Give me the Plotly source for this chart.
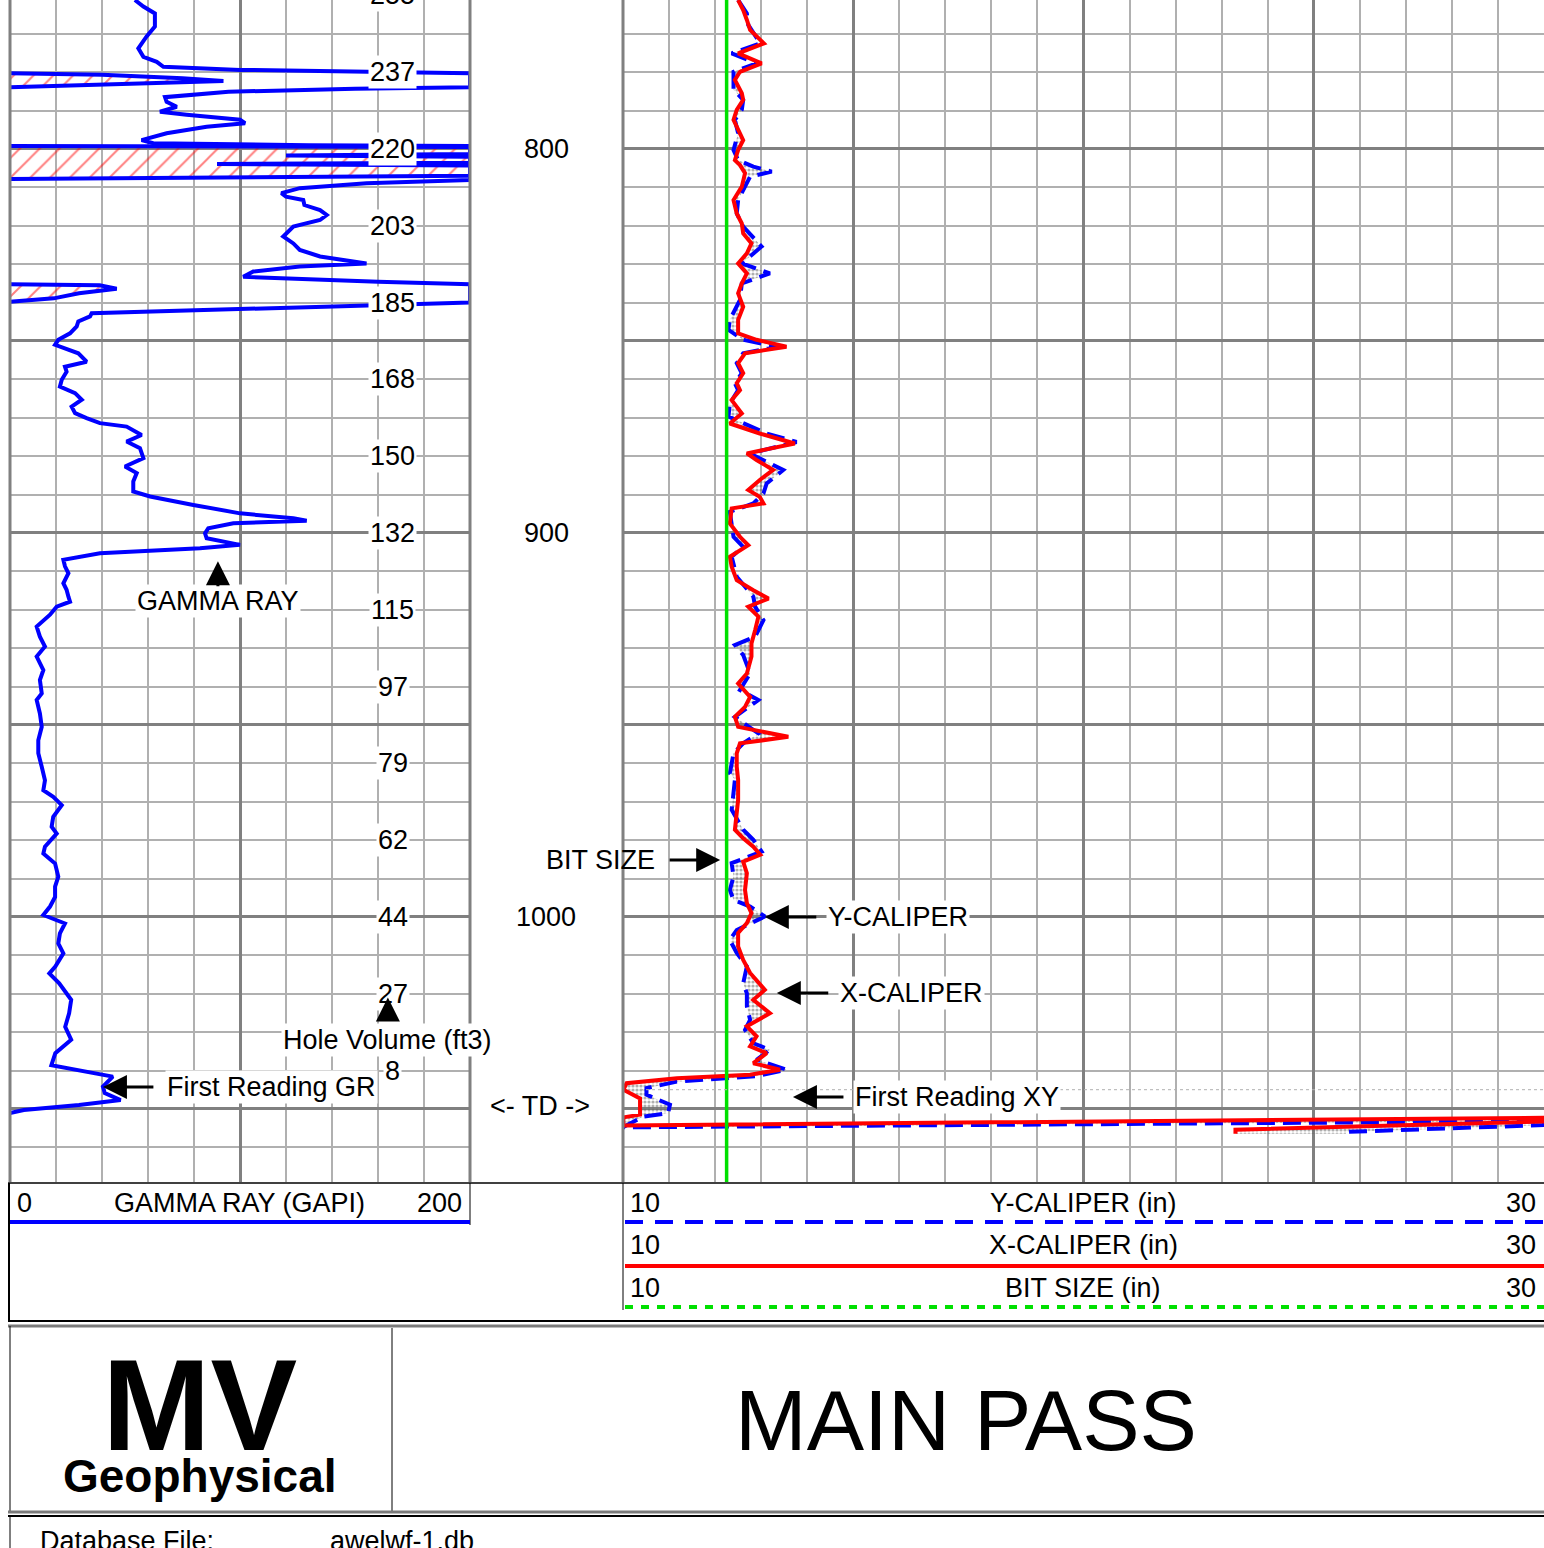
import plotly.graph_objects as go

W, H = 1544, 1548
FONT = "Liberation Sans, Arial, sans-serif"

# depth window shown on the sheet (ft)
depth_top = 761.2
depth_bottom = 1069.3

# ---------------- gamma ray (GAPI), main trace ----------------
gr_depth = [
    761.2, 762.9, 764.7, 768.1, 770.7, 773.8, 776.0, 777.3, 778.6, 779.4, 780.0, 780.3,
    783.9, 784.3, 785.1, 785.9, 786.5, 787.7, 789.0, 790.3, 791.1, 792.4, 793.3, 794.2,
    795.9, 797.7, 798.5, 799.0, 799.2, 808.1, 808.9, 810.2, 811.5, 812.4, 813.3, 814.6,
    815.9, 817.2, 818.5, 820.2, 822.8, 824.6, 826.3, 828.0, 829.8, 830.6, 831.9, 833.3,
    834.6, 835.2, 840.0, 841.0, 842.3, 842.8, 843.6, 844.9, 846.2, 848.0, 849.7, 851.0,
    853.2, 855.4, 856.7, 858.0, 860.1, 861.9, 863.6, 865.3, 867.1, 868.8, 870.1, 871.4,
    872.3, 874.5, 876.2, 877.9, 880.5, 882.7, 884.4, 886.6, 889.2, 890.5, 892.7, 894.9,
    896.2, 896.8, 897.5, 898.8, 900.1, 901.4, 903.1, 904.0, 905.3, 907.0, 908.7, 910.5,
    913.1, 914.8, 916.6, 917.9, 919.2, 921.3, 924.4, 927.0, 929.6, 932.2, 935.7, 938.3,
    941.8, 943.5, 947.0, 950.5, 954.0, 957.4, 960.9, 964.4, 967.0, 968.7, 970.9, 973.9,
    976.5, 978.3, 981.7, 983.5, 986.1, 989.5, 992.1, 994.8, 997.3, 999.5, 1001.7, 1004.3,
    1006.9, 1009.5, 1012.9, 1014.7, 1017.3, 1021.6, 1025.1, 1028.6, 1032.0, 1035.5, 1038.6,
    1039.9, 1041.6, 1044.2, 1045.9, 1047.7, 1049.0, 1050.3, 1051.1,
]
gr_api = [
    54.3, 58.0, 63.0, 63.0, 59.4, 55.8, 58.0, 63.8, 66.7, 100.0, 170.0, 200.0,
    200.0, 150.0, 95.0, 78.0, 67.4, 68.1, 72.5, 65.2, 76.8, 100.0, 102.2, 85.5,
    68.1, 57.2, 62.3, 130.0, 200.0, 200.0, 155.0, 126.0, 118.0, 120.0, 127.5, 128.0,
    134.8, 137.7, 134.8, 123.2, 118.8, 123.2, 126.0, 134.8, 155.0, 126.0, 105.8, 101.4,
    160.0, 200.0, 200.0, 140.6, 68.1, 35.5, 34.8, 29.7, 29.0, 26.1, 21.0, 19.6,
    29.7, 33.3, 23.9, 24.6, 22.5, 21.7, 28.3, 31.2, 26.8, 28.3, 33.3, 39.1,
    50.7, 57.2, 50.7, 56.5, 58.0, 50.0, 55.1, 53.6, 53.6, 60.9, 79.7, 100.0,
    123.2, 129.0, 97.1, 86.2, 84.8, 85.5, 100.0, 82.6, 39.1, 23.2, 23.9, 25.4,
    23.2, 24.6, 25.4, 26.1, 20.3, 17.4, 11.6, 13.0, 15.2, 11.6, 14.5, 13.0,
    13.8, 11.6, 13.0, 13.8, 12.3, 12.3, 13.8, 15.2, 14.5, 18.8, 22.5, 18.8,
    18.1, 20.3, 15.2, 14.5, 19.6, 21.0, 19.6, 19.6, 17.4, 14.5, 23.9, 21.7,
    21.0, 23.2, 19.7, 17.1, 21.4, 26.6, 25.7, 24.0, 26.6, 19.7, 18.0,
    30.0, 44.7, 40.4, 41.2, 48.1, 30.0, 6.0, 0.0,
]

# gamma ray backup (wrapped past 200 GAPI), three intervals
gr_backup_depth = [
    [780.3, 780.7, 781.6, 782.3, 782.9, 783.6, 783.9],
    [799.2, 799.5, 800.4, 801.3, 801.7, 802.0, 803.2, 803.6, 803.9, 804.3, 805.0, 807.0,
     807.8],
    [835.2, 835.5, 836.4, 837.6, 838.9, 839.8],
]
gr_backup_api = [
    [0.0, 40.0, 75.0, 92.8, 60.0, 25.0, 0.0],
    [0.0, 200.0, 200.0, 200.0, 120.0, 200.0, 200.0, 200.0, 90.0, 200.0, 200.0, 200.0,
     0.0],
    [0.0, 39.0, 46.4, 30.0, 19.0, 0.0],
]

# ---------------- Y-caliper (in) ----------------
caly_depth = [
    761.2, 764.7, 767.7, 772.5, 775.1, 777.7, 779.9, 784.6, 787.2, 789.8, 792.4, 795.9,
    800.3, 802.9, 804.6, 805.9, 807.2, 809.8, 813.3, 816.8, 820.2, 825.4, 829.8, 832.4,
    835.0, 839.3, 844.5, 847.1, 849.7, 851.5, 853.2, 855.8, 858.4, 861.0, 862.8, 866.3,
    869.7, 874.1, 876.3, 879.3, 883.6, 887.1, 889.7, 892.3, 894.5, 901.0, 903.6, 906.2,
    911.4, 916.6, 919.2, 922.7, 927.0, 929.2, 931.8, 936.6, 940.9, 943.5, 947.9, 952.2,
    954.8, 957.4, 962.6, 964.3, 967.8, 972.1, 977.3, 979.9, 983.0, 986.0, 989.5, 993.0,
    995.6, 997.3, 999.9, 1001.6, 1003.4, 1006.0, 1009.4, 1012.9, 1017.3, 1019.9, 1023.3,
    1026.8, 1029.4, 1032.9, 1034.6, 1037.2, 1039.8, 1041.5, 1042.9, 1044.6, 1046.3,
    1048.9, 1051.1, 1052.0, 1054.8, 1053.2, 1054.2, 1056.0, 1056.5,
]
caly_in = [
    12.50, 12.69, 12.72, 12.98, 12.36, 12.90, 12.40, 12.40, 12.61, 12.58, 12.43, 12.50,
    12.40, 12.50, 12.83, 13.23, 12.76, 12.65, 12.50, 12.47, 12.61, 13.01, 12.58, 13.19,
    12.58, 12.54, 12.32, 12.29, 12.61, 13.34, 12.61, 12.47, 12.58, 12.43, 12.50, 12.32,
    12.29, 13.12, 13.77, 12.76, 13.48, 13.12, 13.05, 12.83, 12.32, 12.40, 12.61, 12.36,
    12.47, 12.83, 12.87, 13.05, 12.87, 12.43, 12.61, 12.76, 12.54, 12.94, 12.43, 12.94,
    12.61, 12.40, 12.32, 12.43, 12.40, 12.36, 12.61, 12.83, 13.01, 12.36, 12.40, 12.32,
    12.40, 12.76, 13.08, 12.76, 12.47, 12.32, 12.47, 12.69, 12.61, 12.69, 12.69,
    12.76, 12.65, 12.83, 13.19, 12.90, 13.55, 12.90, 11.17, 10.51, 10.51,
    11.02, 10.98, 10.44, 10.00, 30.00, 30.00, 25.70, 25.70,
]

# ---------------- X-caliper (in) ----------------
calx_depth = [
    761.2, 763.8, 766.4, 769.0, 772.5, 775.1, 777.7, 779.9, 782.0, 785.5, 787.2, 789.8,
    792.4, 795.1, 797.7, 800.3, 802.9, 804.2, 806.3, 809.8, 813.3, 816.8, 819.4, 822.0,
    824.6, 827.2, 829.8, 832.4, 835.0, 837.6, 841.1, 844.5, 848.0, 849.7, 851.5, 853.2,
    855.8, 858.4, 861.0, 862.8, 865.4, 868.9, 871.5, 874.1, 876.7, 879.3, 881.0, 883.6,
    886.2, 888.8, 890.6, 892.3, 893.6, 897.5, 901.0, 903.2, 906.2, 908.8, 912.3, 914.9,
    917.1, 919.2, 921.8, 925.3, 928.8, 932.2, 936.6, 939.2, 942.7, 945.3, 947.9, 950.5,
    953.1, 954.8, 957.4, 960.9, 964.3, 969.5, 973.0, 977.3, 979.5, 981.7, 983.8, 985.6,
    988.6, 993.0, 996.4, 999.0, 1001.6, 1004.2, 1007.7, 1011.2, 1014.6, 1019.0, 1021.6,
    1025.1, 1028.5, 1031.1, 1033.7, 1035.5, 1038.1, 1039.8, 1041.1, 1042.0, 1043.3,
    1045.0, 1047.3, 1051.5, 1052.2, 1054.3, 1052.3, 1053.3, 1055.4, 1056.5,
]
calx_in = [
    12.50, 12.61, 12.69, 12.76, 13.06, 12.50, 13.01, 12.54, 12.43, 12.58, 12.61, 12.47,
    12.40, 12.50, 12.61, 12.50, 12.43, 12.54, 12.65, 12.58, 12.40, 12.47, 12.58, 12.61,
    12.79, 12.69, 12.50, 12.69, 12.58, 12.50, 12.61, 12.50, 12.50, 12.90, 13.55, 12.65,
    12.50, 12.61, 12.47, 12.54, 12.36, 12.58, 12.32, 12.97, 13.73, 12.69, 12.90, 13.26,
    12.97, 12.72, 12.97, 13.05, 12.36, 12.32, 12.54, 12.72, 12.32, 12.36, 12.47, 12.83,
    13.16, 12.72, 12.94, 12.87, 12.79, 12.79, 12.69, 12.50, 12.76, 12.65, 12.43, 12.50,
    13.59, 12.54, 12.47, 12.47, 12.50, 12.50, 12.47, 12.43, 12.61, 12.83, 12.98, 12.61,
    12.69, 12.65, 12.69, 12.79, 12.69, 12.50, 12.50, 12.61, 12.76, 13.08, 12.83,
    13.19, 12.69, 12.90, 12.76, 13.12, 12.83, 13.41, 12.76, 11.17, 10.08,
    10.01, 10.37, 10.37, 10.01, 10.00, 30.00, 30.00, 23.30, 23.30,
]

# bit size (in)
bit_depth = [761.2, 1069.3]
bit_in = [12.25, 12.25]

# hole volume ticks (ft3) printed in the gamma track
hv_depth = [760, 780, 800, 820, 840, 860, 880, 900, 920, 940, 960, 980, 1000, 1020, 1040]
hv_label = ["255", "237", "220", "203", "185", "168", "150", "132", "115", "97", "79",
            "62", "44", "27", "8"]

depth_marks = [800, 900, 1000]
first_reading_xy = 1045.0

TRACK_BOTTOM_PX = 1183


def px(x):
    return x / W


def py(y):
    return 1 - y / H


def depth_paper(d):
    # depth -> paper y, for labels sitting just outside the track window
    frac = (d - depth_top) / (depth_bottom - depth_top)
    return py(frac * TRACK_BOTTOM_PX)


fig = go.Figure()

# gamma ray backup with red hatch
for d, v in zip(gr_backup_depth, gr_backup_api):
    fig.add_trace(go.Scatter(
        x=v, y=d, xaxis="x", yaxis="y", mode="lines",
        line=dict(color="#0000FF", width=4),
        fill="tozerox", fillcolor="rgba(0,0,0,0)",
        fillpattern=dict(shape="/", fgcolor="#FF0000", bgcolor="rgba(0,0,0,0)",
                         size=14, solidity=0.14),
    ))

fig.add_trace(go.Scatter(x=gr_api, y=gr_depth, xaxis="x", yaxis="y", mode="lines",
                         line=dict(color="#0000FF", width=4)))

# calipers, stipple between them
fig.add_trace(go.Scatter(x=caly_in, y=caly_depth, xaxis="x2", yaxis="y2", mode="lines",
                         line=dict(color="#0000FF", width=4, dash="18px,8px")))
fig.add_trace(go.Scatter(
    x=calx_in, y=calx_depth, xaxis="x2", yaxis="y2", mode="lines",
    line=dict(color="#FF0000", width=4),
    fill="tonextx", fillcolor="rgba(0,0,0,0)",
    fillpattern=dict(shape=".", fgcolor="#606060", bgcolor="rgba(0,0,0,0)",
                     size=4, solidity=0.5),
))
fig.add_trace(go.Scatter(x=bit_in, y=bit_depth, xaxis="x2", yaxis="y2", mode="lines",
                         line=dict(color="#00E000", width=3.5)))

grid_major = "#808080"
grid_minor = "#b0b0b0"


def track_x(domain, rng, major, minor):
    return dict(domain=domain, range=rng, dtick=major, tick0=rng[0], showgrid=True,
                gridcolor=grid_major, gridwidth=2.5,
                minor=dict(dtick=minor, tick0=rng[0], showgrid=True,
                           gridcolor=grid_minor, gridwidth=1.5),
                showticklabels=False, ticks="", zeroline=False, showline=False)


def track_y(anchor):
    return dict(domain=[py(TRACK_BOTTOM_PX), 1], range=[depth_bottom, depth_top],
                anchor=anchor, dtick=50, tick0=0, showgrid=True, gridcolor=grid_major,
                gridwidth=2.5,
                minor=dict(dtick=10, tick0=0, showgrid=True,
                           gridcolor=grid_minor, gridwidth=1.5),
                showticklabels=False, ticks="", zeroline=False, showline=False)


ann = []


def text(t, x, y, xref="paper", yref="paper", size=27, xanchor="center", bg=None,
         bold=False):
    ann.append(dict(text=f"<b>{t}</b>" if bold else t, x=x, y=y, xref=xref, yref=yref,
                    showarrow=False, xanchor=xanchor, yanchor="middle",
                    font=dict(family=FONT, size=size, color="black"),
                    bgcolor=bg, borderpad=1))


def arrow(hx, hy, tx, ty, xref, yref):
    ann.append(dict(text="", x=hx, y=hy, ax=tx, ay=ty, xref=xref, yref=yref,
                    axref=xref, ayref=yref, showarrow=True, arrowhead=2,
                    arrowsize=1.6, arrowwidth=3, arrowcolor="black", standoff=0))


# hole volume labels
for d, t in zip(hv_depth, hv_label):
    if d < depth_top:
        text(t, 166.5, depth_paper(d), xref="x", bg="white")
    else:
        text(t, 166.5, d, xref="x", yref="y", bg="white")
# depth numbers
for d in depth_marks:
    text(str(d), px(546), d, yref="y")

text("GAMMA RAY", 90.4, 917.7, xref="x", yref="y", bg="white")
arrow(90.4, 907.4, 90.4, 914.3, "x", "y")
text("Hole Volume (ft3)", 164.3, 1032.0, xref="x", yref="y", bg="white")
arrow(164.3, 1021.0, 164.3, 1027.3, "x", "y")
text("First Reading GR", 67.4, 1044.3, xref="x", yref="y", xanchor="left", bg="white")
arrow(40.4, 1044.3, 63.0, 1044.3, "x", "y")
text("&lt;- TD -&gt;", px(540), 1049.2, yref="y")

text("BIT SIZE", px(657), 985.2, yref="y", xanchor="right")
arrow(12.11, 985.2, 10.98, 985.2, "x2", "y2")
text("Y-CALIPER", 14.41, 1000.0, xref="x2", yref="y2", xanchor="left", bg="white")
arrow(13.08, 1000.0, 14.23, 1000.0, "x2", "y2")
text("X-CALIPER", 14.67, 1019.8, xref="x2", yref="y2", xanchor="left", bg="white")
arrow(13.34, 1019.8, 14.49, 1019.8, "x2", "y2")
text("First Reading XY", 14.99, 1046.9, xref="x2", yref="y2", xanchor="left", bg="white")
arrow(13.69, 1046.9, 14.82, 1046.9, "x2", "y2")

# curve headers
text("0", px(15), py(1203), xanchor="left")
text("GAMMA RAY (GAPI)", px(239), py(1203))
text("200", px(464), py(1203), xanchor="right")
for yy, name in [(1203, "Y-CALIPER (in)"), (1245, "X-CALIPER (in)"), (1288, "BIT SIZE (in)")]:
    text("10", px(628), py(yy), xanchor="left")
    text(name, px(1083), py(yy))
    text("30", px(1538), py(yy), xanchor="right")

# title block: logo as one two-line text
ann.append(dict(
    text="<b><span style='font-size:130px'>MV</span><br>"
         "<span style='font-size:46px'>Geophysical</span></b>",
    x=px(200), y=py(1417), xref="paper", yref="paper", showarrow=False,
    xanchor="center", yanchor="middle",
    font=dict(family=FONT, size=32, color="black"),
))
text("MAIN PASS", px(966), py(1420), size=86)
text("Database File:", px(38), py(1541), xanchor="left")
text("awelwf-1.db", px(328), py(1541), xanchor="left")


def hline(y, x0, x1, color="black", width=1, dash="solid"):
    return dict(type="line", xref="paper", yref="paper", x0=px(x0), x1=px(x1),
                y0=py(y), y1=py(y), line=dict(color=color, width=width, dash=dash))


def vline(x, y0, y1, color="black", width=1):
    return dict(type="line", xref="paper", yref="paper", x0=px(x), x1=px(x),
                y0=py(y0), y1=py(y1), line=dict(color=color, width=width))


shapes = [
    vline(10, 0, 1183, grid_major, 3),
    vline(470, 0, 1183, grid_major, 3),
    vline(623, 0, 1183, grid_major, 3),
    dict(type="line", xref="paper", yref="y2", x0=px(640), x1=1,
         y0=first_reading_xy, y1=first_reading_xy,
         line=dict(color="#b0b0b0", width=1, dash="dot")),
    hline(1183, 8, 1544, "#404040", 2),
    vline(470, 1183, 1225),
    hline(1222, 10, 470, "#0000FF", 4),
    vline(623, 1183, 1310),
    hline(1222, 625, 1544, "#0000FF", 4, "18px,12px"),
    hline(1266, 625, 1544, "#FF0000", 4),
    hline(1307, 625, 1544, "#00E000", 4, "8px,8px"),
    vline(9, 1183, 1322, "black", 2),
    hline(1321, 8, 1544, "black", 2),
    hline(1326, 8, 1544, "#7a7a7a", 3),
    vline(10, 1326, 1512),
    vline(392, 1328, 1511),
    hline(1512, 8, 1544, "#7a7a7a", 3),
    hline(1516, 8, 1544, "black", 2),
    vline(10, 1516, 1548),
]

fig.update_layout(
    width=W, height=H,
    margin=dict(l=0, r=0, t=0, b=0),
    paper_bgcolor="white", plot_bgcolor="white",
    showlegend=False,
    xaxis=track_x([px(10), px(470)], [0, 200], 100, 20),
    xaxis2=dict(track_x([px(623), 1], [10, 30], 5, 1), anchor="y2"),
    yaxis=track_y("x"),
    yaxis2=track_y("x2"),
    annotations=ann,
    shapes=shapes,
)

# the page's default 8px body margin would shift the sheet
fig.write_html("out.html", config={"displayModeBar": False},
               post_script="document.body.style.margin='0';")
